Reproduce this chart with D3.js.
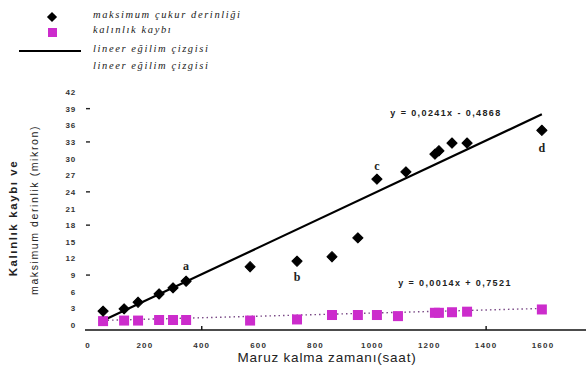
<!DOCTYPE html>
<html>
<head>
<meta charset="utf-8">
<script src="https://cdn.jsdelivr.net/npm/d3@7"></script>
<style>
  html, body { margin: 0; padding: 0; background: #fff; }
  svg { display: block; }
</style>
</head>
<body>
<svg id="chart" width="586" height="385"></svg>
<script>
// Maximum pit depth (µm) against exposure time (h)
const depthHours = [53, 127, 176, 250, 299, 345, 570, 735, 858, 949, 1016, 1118, 1220, 1234, 1280, 1333, 1596];
const depthValues = [2.5, 2.9, 4.1, 5.6, 6.7, 7.9, 10.5, 11.5, 12.3, 15.7, 26.3, 27.6, 30.8, 31.4, 32.8, 32.8, 35.1];

// Thickness loss (µm) against exposure time (h)
const lossHours = [53, 127, 176, 250, 299, 345, 570, 735, 858, 949, 1016, 1090, 1220, 1234, 1280, 1333, 1596];
const lossValues = [0.7, 0.8, 0.8, 0.9, 0.9, 0.9, 0.8, 1.0, 1.8, 1.8, 1.8, 1.6, 2.2, 2.2, 2.3, 2.4, 2.8];

// Linear trend coefficients [slope, intercept]
const depthFit = [0.0241, -0.4868];
const lossFit = [0.0014, 0.7521];
const depthFitLabel = "y = 0,0241x - 0,4868";
const lossFitLabel = "y = 0,0014x + 0,7521";

// Point annotations
const noteLetters = ["a", "b", "c", "d"];
const noteIndex = [5, 7, 10, 16];

const xTickValues = [0, 200, 400, 600, 800, 1000, 1200, 1400, 1600];
const xTickMarks = [400, 1400];
const yTickValues = [0, 3, 6, 9, 12, 15, 18, 21, 24, 27, 30, 33, 36, 39, 42];
const yTickMarks = [9, 18, 24, 33, 39];

const legendLabels = ["maksimum çukur derinliği", "kalınlık kaybı", "lineer eğilim çizgisi", "lineer eğilim çizgisi"];

const svg = d3.select("#chart");
const x = d3.scaleLinear().domain([0, 1600]).range([88, 543]);
const y = d3.scaleLinear().domain([0, 42]).range([325, 92]);

const magenta = "#cc2ccc";
const tickFont = "Liberation Sans, Arial, sans-serif";

// X axis baseline with labels
svg.append("line")
  .attr("x1", 85).attr("x2", 586).attr("y1", 330).attr("y2", 330)
  .attr("stroke", "#111").attr("stroke-width", 1.6);

svg.append("g").selectAll("line").data(xTickMarks).join("line")
  .attr("x1", d => x(d)).attr("x2", d => x(d))
  .attr("y1", 330).attr("y2", 326)
  .attr("stroke", "#111").attr("stroke-width", 1.4);

svg.append("g").selectAll("text").data(xTickValues).join("text")
  .attr("x", d => x(d)).attr("y", 348)
  .attr("text-anchor", "middle")
  .attr("font-family", tickFont).attr("font-size", 8).attr("font-weight", "bold")
  .attr("letter-spacing", 1.2).attr("fill", "#333")
  .text(d => d);

// Y axis labels and tick marks
svg.append("g").selectAll("text").data(yTickValues).join("text")
  .attr("x", 76).attr("y", d => y(d) + 3)
  .attr("text-anchor", "end")
  .attr("font-family", tickFont).attr("font-size", 8).attr("font-weight", "bold")
  .attr("letter-spacing", 0.8).attr("fill", "#333")
  .text(d => d);

svg.append("g").selectAll("line").data(yTickMarks).join("line")
  .attr("x1", 86).attr("x2", 90)
  .attr("y1", d => y(d)).attr("y2", d => y(d))
  .attr("stroke", "#222").attr("stroke-width", 1.4);

// Axis titles
svg.append("text")
  .attr("transform", "translate(17,218) rotate(-90)")
  .attr("text-anchor", "middle")
  .attr("font-family", tickFont).attr("font-size", 11.5).attr("font-weight", "bold")
  .attr("letter-spacing", 1.6).attr("fill", "#222")
  .text("Kalınlık kaybı ve");

svg.append("text")
  .attr("transform", "translate(38,210) rotate(-90)")
  .attr("text-anchor", "middle")
  .attr("font-family", tickFont).attr("font-size", 10.5)
  .attr("letter-spacing", 1.6).attr("fill", "#222")
  .text("maksimum derinlik (mikron)");

svg.append("text")
  .attr("x", 327).attr("y", 362)
  .attr("text-anchor", "middle")
  .attr("font-family", tickFont).attr("font-size", 13.5)
  .attr("letter-spacing", 0.8).attr("fill", "#222")
  .text("Maruz kalma zamanı(saat)");

// Trend lines
const depthLine = d3.line().x(d => x(d)).y(d => y(depthFit[0] * d + depthFit[1]));
const lossLine = d3.line().x(d => x(d)).y(d => y(lossFit[0] * d + lossFit[1]));
const span = [d3.min(depthHours), d3.max(depthHours)];

svg.append("path").attr("d", lossLine(span))
  .attr("fill", "none").attr("stroke", "#7a4a86")
  .attr("stroke-width", 1.4).attr("stroke-dasharray", "1.5,3");

svg.append("path").attr("d", depthLine(span))
  .attr("fill", "none").attr("stroke", "#000").attr("stroke-width", 2.2);

// Thickness loss markers
svg.append("g").selectAll("rect").data(lossHours).join("rect")
  .attr("x", d => x(d) - 5).attr("y", (d, i) => y(lossValues[i]) - 5)
  .attr("width", 10).attr("height", 10)
  .attr("fill", magenta);

// Maximum depth markers: squares turned 45°
const diamond = d3.symbol().type(d3.symbolSquare).size(52);
svg.append("g").selectAll("path").data(depthHours).join("path")
  .attr("d", diamond)
  .attr("transform", (d, i) => `translate(${x(d)},${y(depthValues[i])}) rotate(45)`)
  .attr("fill", "#000")
  .attr("stroke", "#000").attr("stroke-width", 1).attr("stroke-linejoin", "round");

// Letter annotations
const noteOffsets = [-15, 16, -13, 18];
svg.append("g").selectAll("text").data(noteLetters).join("text")
  .attr("x", (d, i) => x(depthHours[noteIndex[i]]))
  .attr("y", (d, i) => y(depthValues[noteIndex[i]]) + noteOffsets[i] + 4)
  .attr("text-anchor", "middle")
  .attr("font-family", "Liberation Serif, serif").attr("font-size", 12).attr("font-weight", "bold")
  .attr("fill", "#222")
  .text(d => d);

// Trend equations
svg.append("text")
  .attr("x", 446).attr("y", 116).attr("text-anchor", "middle")
  .attr("font-family", tickFont).attr("font-size", 9).attr("font-weight", "bold")
  .attr("letter-spacing", 1.4).attr("fill", "#222")
  .text(depthFitLabel);

svg.append("text")
  .attr("x", 455).attr("y", 286).attr("text-anchor", "middle")
  .attr("font-family", tickFont).attr("font-size", 9).attr("font-weight", "bold")
  .attr("letter-spacing", 1.4).attr("fill", "#222")
  .text(lossFitLabel);

// Legend
const legend = svg.append("g");
legend.append("path").attr("d", diamond).attr("transform", "translate(52,17) rotate(45)").attr("fill", "#000");
legend.append("rect").attr("x", 48).attr("y", 28).attr("width", 9).attr("height", 9).attr("fill", magenta);
legend.append("line").attr("x1", 19).attr("x2", 81).attr("y1", 51).attr("y2", 51)
  .attr("stroke", "#000").attr("stroke-width", 2);

const legendY = [18, 33, 52, 69];
legend.selectAll("text").data(legendLabels).join("text")
  .attr("x", 93).attr("y", (d, i) => legendY[i])
  .attr("font-family", "Liberation Serif, serif").attr("font-style", "italic")
  .attr("font-size", 10.5).attr("letter-spacing", 1.6).attr("fill", "#222")
  .text(d => d);
</script>
</body>
</html>
